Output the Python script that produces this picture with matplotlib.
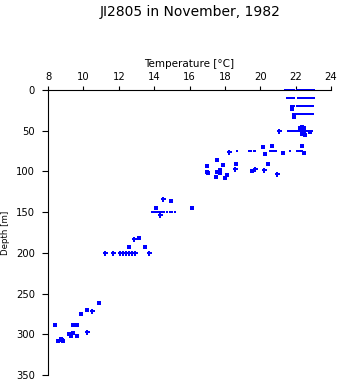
## Temperature profile at station JI2805, November 1982
## redrawn as a scatter of bottle temperatures vs depth.

import matplotlib
matplotlib.use("Agg")
import matplotlib.pyplot as plt

## standard bottle depths where many casts line up
row_depth = [0, 10, 20, 30, 50, 75, 150]
row_temp = [
    [21.40, 21.48, 21.56, 21.64, 21.72, 21.80, 21.88, 22.08, 22.16, 22.24, 22.32,
     22.40, 22.48, 22.56, 22.64, 22.72, 22.80, 22.88, 22.96, 23.04],
    [21.52, 21.60, 21.68, 21.76, 21.84, 21.92, 22.14, 22.22, 22.30, 22.38, 22.46,
     22.54, 22.62, 22.70, 22.78, 22.86, 22.94, 23.02],
    [21.76, 21.84, 21.92, 22.10, 22.18, 22.26, 22.34, 22.42, 22.50, 22.58, 22.66,
     22.74, 22.82, 22.90, 22.98],
    [21.86, 21.94, 22.02, 22.10, 22.18, 22.26, 22.34, 22.42, 22.50, 22.58, 22.66,
     22.74, 22.82, 22.90, 22.98],
    [21.55, 21.65, 21.75, 21.85, 21.95, 22.05, 22.20, 22.30, 22.40, 22.50, 22.60,
     22.70, 22.93],
    [18.70, 19.38, 19.50, 19.62, 19.72, 20.55, 20.65, 20.78, 20.87, 21.68, 22.05,
     22.15, 22.25, 22.35],
    [13.88, 13.98, 14.08, 14.18, 14.28, 14.38, 14.48, 14.58, 14.71, 14.90, 15.02, 15.16],
]

## scattered single readings (square symbols)
sq_temp = [21.82, 21.88, 22.25, 22.35, 22.45, 22.35, 22.50, 22.55, 22.80, 22.42,
           20.17, 20.68, 22.37, 20.29, 21.30, 22.49,
           17.57, 17.91, 18.65, 20.46, 17.01, 17.01, 17.06, 17.54, 17.74, 17.74,
           19.55, 18.14, 17.52, 18.02,
           14.97, 14.12, 16.16, 13.16, 12.60, 13.50,
           10.90, 10.22, 9.88, 9.43, 9.66, 8.41, 9.20, 9.43, 9.32, 9.66,
           8.72, 8.79, 8.57, 8.87]
sq_depth = [23, 33, 47, 46, 47, 54, 53, 55, 52, 51,
            69.6, 68.8, 69.0, 79.0, 77.7, 77.7,
            86.0, 92.5, 91.2, 91.2, 93.7, 100.3, 102.3, 100.7, 98.2, 102.3,
            99.1, 104.8, 106.5, 108.4,
            136.7, 144.9, 144.9, 181.4, 192.8, 192.8,
            261.2, 270.5, 275.1, 288.6, 288.6, 289.0, 300.0, 298.0, 302.5, 302.5,
            305.4, 307.0, 308.6, 308.6]

## readings drawn with the plus symbol (incl. the 200 m bottles)
pl_temp = [21.08, 18.21, 18.57, 19.69, 20.19, 20.93, 14.48, 14.31, 12.85,
           10.49, 10.22,
           11.21, 11.66, 12.05, 12.26, 12.39, 12.56, 12.77, 12.90, 13.73]
pl_depth = [50, 75.8, 97.4, 96.6, 98.6, 103.5, 134.2, 153.9, 183.4,
            271.8, 297.2,
            200, 200, 200, 200, 200, 200, 200, 200, 200]

blue = "#0000ff"

fig = plt.figure(figsize=(3.41, 3.84), dpi=100)
ax = fig.add_axes([48/341, 1 - 375/384, 283/341, 285/384])

for d, temps in zip(row_depth, row_temp):
    ax.plot(temps, [d]*len(temps), "s", color=blue, ms=2.15, mew=0,
            antialiased=False, clip_on=False)
ax.plot(sq_temp, sq_depth, "s", color=blue, ms=2.3, mew=0,
        antialiased=False, clip_on=False)
ax.plot(pl_temp, pl_depth, "P", color=blue, ms=3.6, mew=0,
        antialiased=False, clip_on=False)

ax.set_xlim(8, 24)
ax.set_ylim(350, 0)
ax.set_xticks(range(8, 25, 2))
ax.set_yticks(range(0, 351, 50))

ax.xaxis.tick_top()
ax.xaxis.set_label_position("top")
for s in ("right", "bottom"):
    ax.spines[s].set_visible(False)
for s in ("top", "left"):
    ax.spines[s].set_linewidth(0.8)
ax.tick_params(axis="x", direction="out", length=3, width=0.8, pad=3, labelsize=7.2)
ax.tick_params(axis="y", direction="out", length=4.3, width=0.8, pad=5, labelsize=7.2)

ax.set_xlabel("Temperature [°C]", fontsize=7.5)
ax.xaxis.set_label_coords(0.5, 1.081)
ax.set_ylabel("Depth [m]", fontsize=6.2)
ax.yaxis.set_label_coords(-0.133, 0.5)

fig.text(190/341, 1 - 12/384, "JI2805 in November, 1982", fontsize=10,
         ha="center", va="center")

fig.savefig("out.png", dpi=100)
